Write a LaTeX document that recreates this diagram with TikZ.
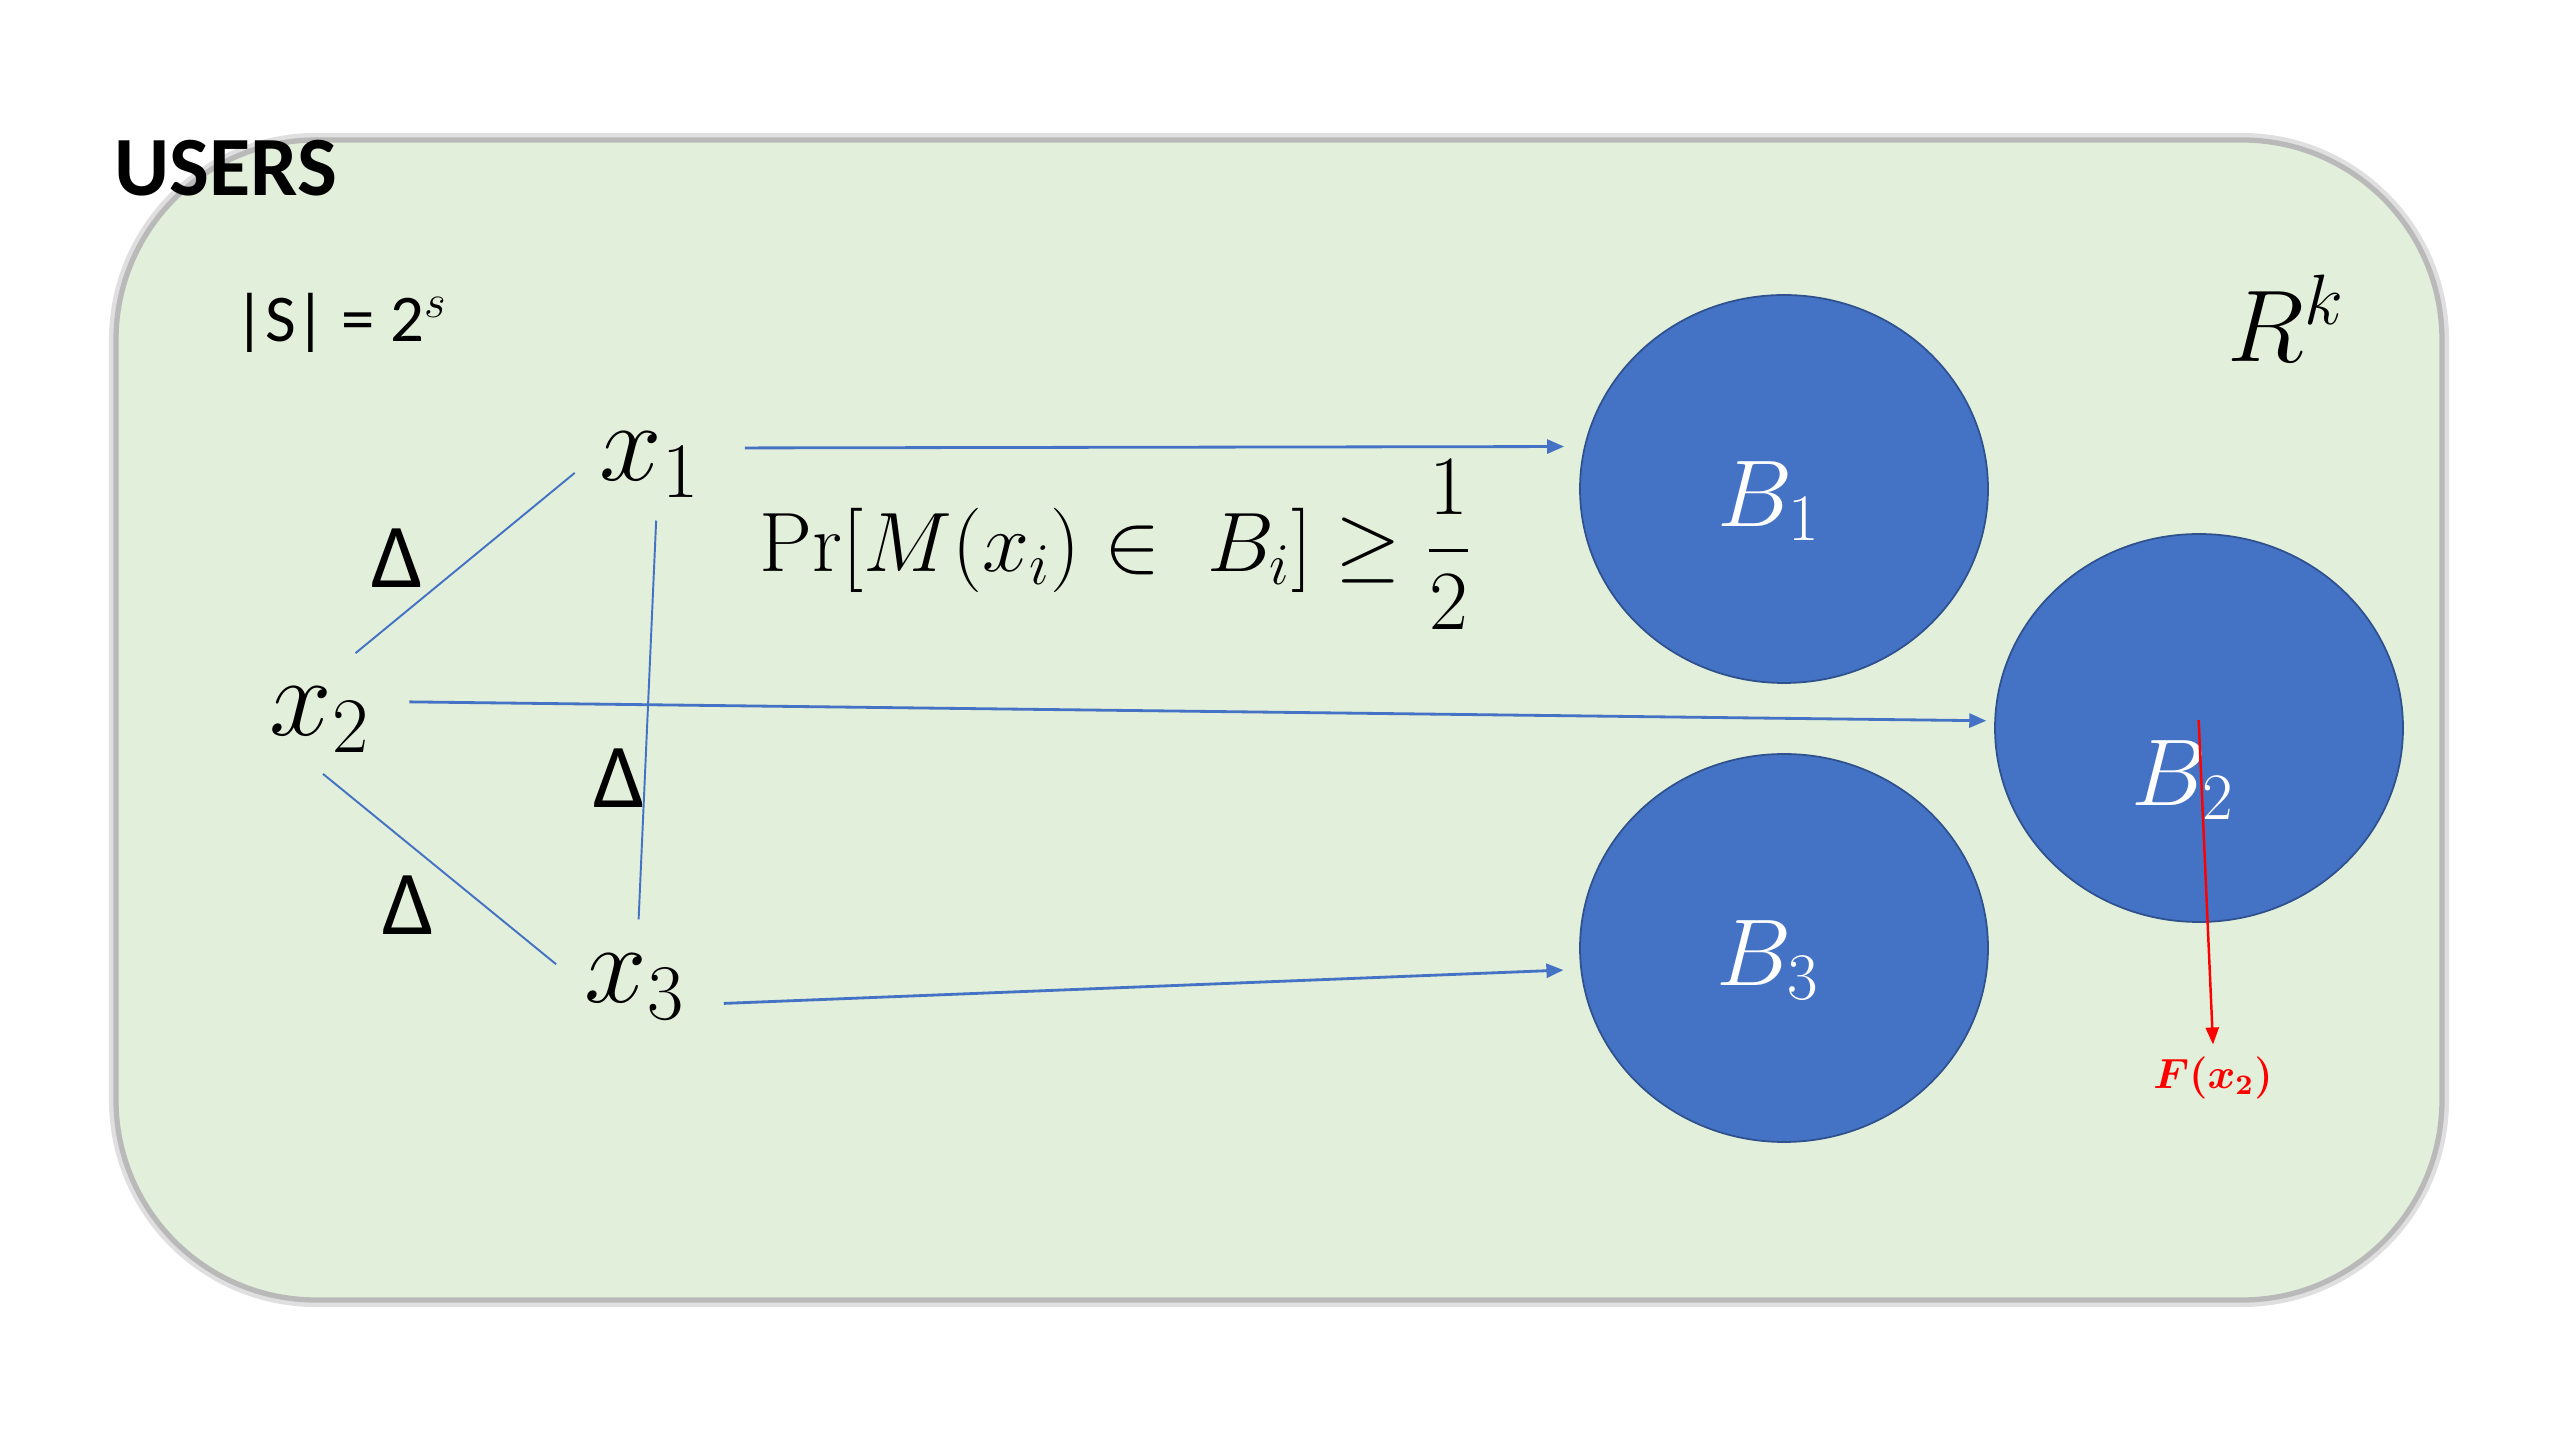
\RequirePackage{fix-cm}
\documentclass[tikz,border=0pt]{standalone}
\usepackage{amsmath}
\usepackage{fontspec}
\usepackage{bm}
\usetikzlibrary{shapes.geometric,arrows.meta}
\newfontfamily\calib{Carlito}
\definecolor{boxgreen}{HTML}{E2EFDA}
\definecolor{ballblue}{HTML}{4472C4}
\definecolor{ballrim}{HTML}{2F528F}
\definecolor{linkblue}{HTML}{4472C4}

\begin{document}
\begin{tikzpicture}[
	user/.style={circle, minimum size=1.5cm, inner sep=0pt, font=\fontsize{32}{32}\selectfont},
	ball/.style={ellipse, fill=ballblue, draw=ballrim, line width=0.5pt, minimum width=4.08cm, minimum height=3.88cm},
	balltext/.style={text=white, font=\fontsize{27}{27}\selectfont},
	delta/.style={font=\calib\fontsize{26}{26}\selectfont},
	link/.style={draw=linkblue, line width=0.55pt},
	toball/.style={draw=linkblue, line width=0.8pt, -{Triangle[length=1.7mm,width=1.4mm]}}]
		\useasboundingbox (0,0) rectangle (25.6,14.4);
		\draw[line width=4pt, gray!25, rounded corners=2cm] (1.16,1.40) rectangle (24.42,13.0);
		\draw[fill=boxgreen, draw=gray!55, line width=1.5pt, rounded corners=2cm] (1.16,1.40) rectangle (24.42,13.0);
		
		\node[font=\calib\bfseries\fontsize{24}{24}\selectfont] (users) at (2.26,12.72) {USERS};
		\node[font=\calib\fontsize{19}{19}\selectfont] (size) at (3.41,11.17) {|S| = 2$^{s}$};
		\node[font=\fontsize{29}{29}\selectfont] (rk) at (22.86,11.22) {$R^{k}$};
		
		\node[ball] (B1) at (17.84,9.51) {};
		\node[ball] (B2) at (21.99,7.12) {};
		\node[ball] (B3) at (17.84,4.92) {};
		\node[balltext] (b1) at (17.69,9.39) {$B_1$};
		\node[balltext] (b2) at (21.83,6.60) {$B_2$};
		\node[balltext] (b3) at (17.68,4.80) {$B_3$};
		
		\node[user] (x1) at (6.50,9.75) {$x_1$};
		\node[user] (x2) at (3.20,7.20) {$x_2$};
		\node[user] (x3) at (6.35,4.53) {$x_3$};
		\node[delta] (d12) at (3.97,8.82) {Δ};
		\node[delta] (d13) at (6.19,6.62) {Δ};
		\node[delta] (d23) at (4.08,5.35) {Δ};
		
		\draw[link] (x2.62) -- (x1.186);
		\draw[link, shorten <=-2.8mm, shorten >=0.7mm] (x2.-71) -- (x3.166);
		\draw[link, shorten <=-2mm, shorten >=-0.8mm] (x1.-86) -- (x3.87);
		
		\node[font=\fontsize{24}{24}\selectfont] (prob) at (11.16,8.95) {$\Pr[M(x_i) \in\; B_i] \geq \dfrac{1}{2}$};
		
		\draw[toball, shorten <=2.1mm, shorten >=2mm] (x1.13) -- (B1.168);
		\draw[toball, shorten <=1.6mm, shorten >=0.8mm] (x2.14) -- (B2.178);
		\draw[toball, shorten <=1.5mm, shorten >=1.7mm] (x3.-13) -- (B3.186);
		
		\node[text=red, font=\fontsize{12}{12}\selectfont] (fx) at (22.13,3.62) {$\bm{F(x_2)}$};
		\draw[red, line width=0.7pt, -{Triangle[length=1.7mm,width=1.3mm]}, shorten <=-0.8mm] (B2.center) -- (fx.north);
		
\end{tikzpicture}
\end{document}
